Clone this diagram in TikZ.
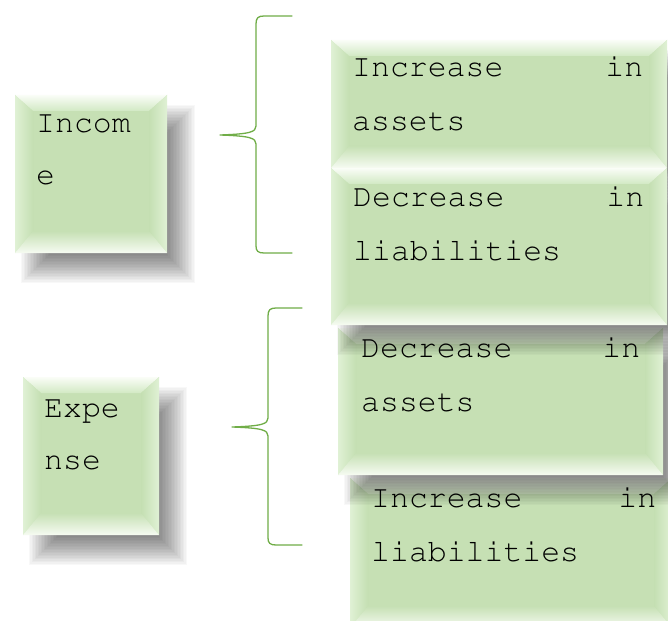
\documentclass[tikz,border=0pt]{standalone}
\usepackage[T1]{fontenc}
\newcommand\courfont{\fontfamily{pcr}\fontseries{m}\selectfont}

\definecolor{boxgreen}{RGB}{198,224,180}
\definecolor{bevtopout}{RGB}{250,253,247}
\definecolor{bevtopin}{RGB}{210,233,196}
\definecolor{bevsideout}{RGB}{224,241,213}
\definecolor{bevsidein}{RGB}{196,223,178}
\definecolor{bevbotout}{RGB}{246,251,242}
\definecolor{bevbotin}{RGB}{198,224,180}
\definecolor{bracegreen}{RGB}{112,173,71}

\tikzset{
  boxbase/.style={rectangle, fill=boxgreen, inner sep=0pt, outer sep=0pt, anchor=north west},
  boxtext/.style={inner sep=0pt, anchor=base west, align=left,
    font=\courfont\fontsize{31.5}{54}\selectfont},
  sidetext/.style={boxtext, font=\courfont\fontsize{31.5}{52}\selectfont},
  bracepath/.style={draw=bracegreen, line width=1.3pt, line cap=round, line join=round},
}

% #1 node name, (#2,#3) top left corner, (#4,#5) bottom right corner
\newcommand\bevelbox[5]{%
  \pgfmathsetmacro\bxw{#4-#2}%
  \pgfmathsetmacro\bxh{#5-#3}%
  % soft drop shadow, hidden at the top and left, fading out below and to the right
  \foreach \k in {0,...,19}{%
    \fill[black, opacity=0.028]
      ({#2+20-14+\k*28/19},{#3+24-14+\k*28/19}) rectangle
      ({#4+14+14-\k*28/19},{#5+16+14-\k*28/19});
  }%
  \node[boxbase, minimum width=\bxw pt, minimum height=\bxh pt] (#1) at (#2,#3) {};
  % bevelled edges
  \shade[top color=bevtopout, bottom color=bevtopin]
    (#2,#3) -- (#4,#3) -- ({#4-18},{#3+16}) -- ({#2+18},{#3+16}) -- cycle;
  \shade[left color=bevsideout, right color=bevsidein]
    (#2,#3) -- ({#2+18},{#3+16}) -- ({#2+18},{#5-22}) -- (#2,#5) -- cycle;
  \shade[left color=bevsidein, right color=bevsideout]
    (#4,#3) -- ({#4-18},{#3+16}) -- ({#4-18},{#5-22}) -- (#4,#5) -- cycle;
  \shade[top color=bevbotin, bottom color=bevbotout]
    (#2,#5) -- ({#2+18},{#5-22}) -- ({#4-18},{#5-22}) -- (#4,#5) -- cycle;
}

\begin{document}
\begin{tikzpicture}[x=1pt, y=-1pt]
  \clip (0,0) rectangle (668,620);
  \fill[white] (0,0) rectangle (668,620);

  % left-hand boxes
  \bevelbox{income}{15}{95}{167}{253}
  \bevelbox{expense}{23}{377}{159}{535}

  % right-hand boxes, stacked so each one's shadow falls on the next
  \bevelbox{decliab}{350}{478}{672}{628}
  \bevelbox{decassets}{338}{328}{663}{475}
  \bevelbox{incassets}{331}{40}{667}{168}
  \bevelbox{incliab}{331}{168}{667}{325}

  % texts
  \node[sidetext, text width=130pt] (tincome) at ([shift={(21,38)}]income.north west) {Incom\\e};
  \node[sidetext, text width=120pt] (texpense) at ([shift={(21,40)}]expense.north west) {Expe\\nse};
  \node[boxtext, text width=291pt] (t1) at ([shift={(21,37)}]incassets.north west) {Increase\hfill in\\assets};
  \node[boxtext, text width=291pt] (t2) at ([shift={(22,39)}]incliab.north west) {Decrease\hfill in\\liabilities};
  \node[boxtext, text width=279pt] (t3) at ([shift={(23,29)}]decassets.north west) {Decrease\hfill in\\assets};
  \node[boxtext, text width=285pt] (t4) at ([shift={(21,29)}]decliab.north west) {Increase\hfill in\\liabilities};

  % curly braces
  \coordinate (b1top) at (292,16);
  \coordinate (b1tip) at (220,135);
  \coordinate (b1bot) at (292,253);
  \draw[bracepath] (b1top) -- (264,16) .. controls (258,16) and (256,18) .. (256,24)
    -- (256,126) .. controls (256,132) and (250,134) .. (b1tip)
    .. controls (250,136) and (256,138) .. (256,144)
    -- (256,246) .. controls (256,251) and (258,253) .. (264,253) -- (b1bot);

  \coordinate (b2top) at (302,308);
  \coordinate (b2tip) at (232,427);
  \coordinate (b2bot) at (302,545);
  \draw[bracepath] (b2top) -- (276,308) .. controls (270,308) and (268,310) .. (268,316)
    -- (268,418) .. controls (268,424) and (262,426) .. (b2tip)
    .. controls (262,428) and (268,430) .. (268,436)
    -- (268,538) .. controls (268,543) and (270,545) .. (276,545) -- (b2bot);
\end{tikzpicture}
\end{document}
